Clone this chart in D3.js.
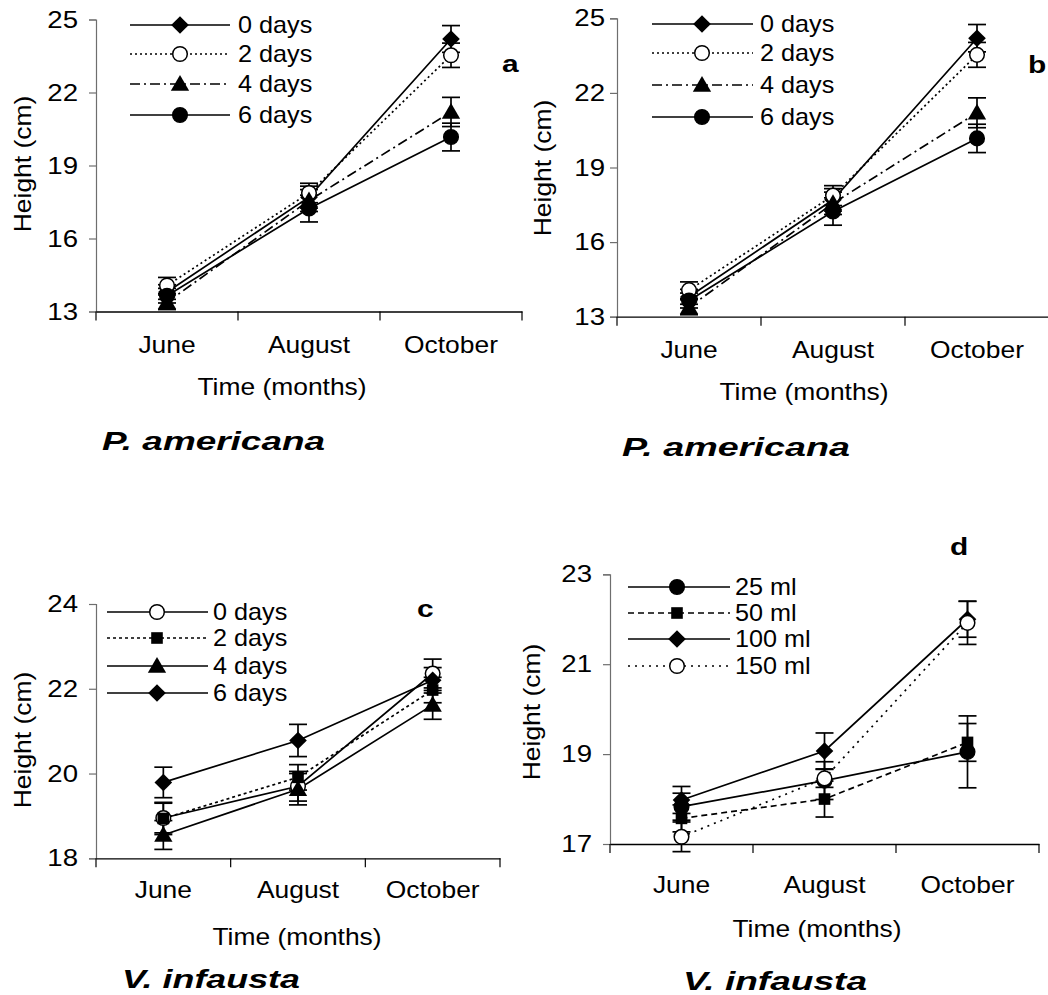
<!DOCTYPE html>
<html>
<head>
<meta charset="utf-8">
<script src="https://cdn.jsdelivr.net/npm/d3@7"></script>
<style>
  body { margin: 0; background: #fff; }
  svg { display: block; font-family: "Liberation Sans", Arial, sans-serif; }
</style>
</head>
<body>
<script>
// months on the x axis
const months = ["June", "August", "October"];

// P. americana (panels a and b show the same values)
const amLabels = ["0 days", "2 days", "4 days", "6 days"];
const am0 = [13.8, 17.7, 24.2],    am0Se = [0.3, 0.45, 0.55];
const am2 = [14.07, 17.87, 23.53], am2Se = [0.33, 0.4, 0.5];
const am4 = [13.38, 17.56, 21.2],  am4Se = [0.3, 0.45, 0.6];
const am6 = [13.65, 17.23, 20.17], am6Se = [0.3, 0.55, 0.57];
const amTicks = [13, 16, 19, 22, 25];

// V. infausta, days (panel c)
const vdLabels = ["0 days", "2 days", "4 days", "6 days"];
const vd0 = [18.95, 19.7, 22.36], vd0Se = [0.35, 0.35, 0.34];
const vd2 = [18.94, 19.91, 21.97], vd2Se = [0.38, 0.3, 0.3];
const vd4 = [18.55, 19.63, 21.62], vd4Se = [0.34, 0.37, 0.34];
const vd6 = [19.79, 20.78, 22.2], vd6Se = [0.36, 0.38, 0.3];
const vdTicks = [18, 20, 22, 24];

// V. infausta, volume (panel d)
const vmLabels = ["25 ml", "50 ml", "100 ml", "150 ml"];
const vm25 = [17.83, 18.41, 19.05], vm25Se = [0.3, 0.42, 0.8];
const vm50 = [17.57, 18.0, 19.26], vm50Se = [0.3, 0.4, 0.42];
const vm100 = [17.98, 19.07, 22.0], vm100Se = [0.3, 0.4, 0.4];
const vm150 = [17.16, 18.46, 21.92], vm150Se = [0.33, 0.2, 0.48];
const vmTicks = [17, 19, 21, 23];

const width = 1048, height = 995;
const FS = 24;   // base font size
const K = 1.1;   // glyphs in the source are drawn a bit wide

const svg = d3.select("body").append("svg")
    .attr("width", width)
    .attr("height", height);

function stretch(sel, k) {
    sel.each(function () {
        const w = this.getComputedTextLength();
        d3.select(this).attr("textLength", w * k).attr("lengthAdjust", "spacingAndGlyphs");
    });
}

function marker(g, shape, x, y) {
    if (shape === "circle" || shape === "ocircle") {
        g.append("circle").attr("cx", x).attr("cy", y).attr("r", 7.3)
            .attr("fill", shape === "ocircle" ? "#fff" : "#000")
            .attr("stroke", "#000").attr("stroke-width", 1.5);
    } else if (shape === "diamond") {
        g.append("path").attr("d", d3.symbol(d3.symbolSquare, 155)())
            .attr("transform", `translate(${x},${y}) rotate(45)`).attr("fill", "#000");
    } else if (shape === "square") {
        g.append("path").attr("d", d3.symbol(d3.symbolSquare, 135)())
            .attr("transform", `translate(${x},${y})`).attr("fill", "#000");
    } else if (shape === "triangle") {
        g.append("path").attr("d", d3.symbol(d3.symbolTriangle, 145)())
            .attr("transform", `translate(${x},${y + 1.5})`).attr("fill", "#000");
    }
}

function mkSeries(labels, vals, ses, shapes, dashes) {
    return labels.map((name, i) => ({name, values: vals[i], se: ses[i], shape: shapes[i], dash: dashes[i]}));
}

const dot = "2,3", dashDot = "10,4,2,4", dash = "6,4";

const panels = [
    {
        letter: "a", x0: 96, x1: 522, yTop: 19.5, yBot: 311.5, domain: [13, 25], ticks: amTicks, tickRight: 78,
        series: mkSeries(amLabels, [am0, am2, am4, am6], [am0Se, am2Se, am4Se, am6Se],
            ["diamond", "ocircle", "triangle", "circle"], [null, dot, dashDot, null]),
        legend: {lx0: 130, lx1: 230, mx: 180, tx: 238, rows: [25, 54, 84, 115]},
        yLab: [23, 164], xLabY: 353, time: [282, 395], species: ["P. americana", 102, 450, 223], let: [502, 72]
    },
    {
        letter: "b", x0: 617, x1: 1049, yTop: 18.3, yBot: 316.7, domain: [13, 25], ticks: amTicks, tickRight: 605,
        series: mkSeries(amLabels, [am0, am2, am4, am6], [am0Se, am2Se, am4Se, am6Se],
            ["diamond", "ocircle", "triangle", "circle"], [null, dot, dashDot, null]),
        legend: {lx0: 652, lx1: 753, mx: 702, tx: 760, rows: [24, 53, 85, 117]},
        yLab: [543, 168], xLabY: 358, time: [804, 400], species: ["P. americana", 622, 456, 228], let: [1028, 73]
    },
    {
        letter: "c", x0: 96, x1: 500, yTop: 604, yBot: 858.3, domain: [18, 24], ticks: vdTicks, tickRight: 78,
        series: mkSeries(vdLabels, [vd0, vd2, vd4, vd6], [vd0Se, vd2Se, vd4Se, vd6Se],
            ["ocircle", "square", "triangle", "diamond"], [null, "3,3", null, null]),
        legend: {lx0: 107, lx1: 208, mx: 157, tx: 213, rows: [612, 638, 666, 693]},
        yLab: [23, 740], xLabY: 898, time: [297, 945], species: ["V. infausta", 122, 988, 178], let: [417, 617]
    },
    {
        letter: "d", x0: 610, x1: 1039, yTop: 574.3, yBot: 844, domain: [17, 23], ticks: vmTicks, tickRight: 592,
        series: mkSeries(vmLabels, [vm25, vm50, vm100, vm150], [vm25Se, vm50Se, vm100Se, vm150Se],
            ["circle", "square", "diamond", "ocircle"], [null, dash, null, "2,5"]),
        legend: {lx0: 628, lx1: 730, mx: 677, tx: 735, rows: [587, 613, 639, 666]},
        yLab: [532, 712], xLabY: 893, time: [817, 937], species: ["V. infausta", 683, 990, 184], let: [950, 555]
    }
];

panels.forEach(p => {
    const g = svg.append("g");
    const x = d3.scaleBand().domain(months).range([p.x0, p.x1]);
    const y = d3.scaleLinear().domain(p.domain).range([p.yBot, p.yTop]);
    const cx = m => x(m) + x.bandwidth() / 2;

    // y axis
    const yAx = g.append("g").attr("transform", `translate(${p.x0},0)`)
        .call(d3.axisLeft(y).tickValues(p.ticks).tickSize(7).tickPadding(p.x0 - 7 - p.tickRight).tickFormat(d3.format("d")));
    yAx.selectAll("path,line").attr("stroke", "#6e6e6e").attr("stroke-width", 1.2);
    yAx.selectAll("text").attr("font-size", FS).attr("fill", "#000").attr("font-family", null).call(stretch, 1.15);

    // x axis: line + ticks at band edges
    const xAx = g.append("g").attr("transform", `translate(0,${p.yBot})`)
        .call(d3.axisBottom(x).tickSize(0).tickPadding(0));
    xAx.select(".domain").attr("stroke", "#000").attr("stroke-width", 1.3);
    xAx.selectAll("text").attr("font-size", FS).attr("fill", "#000").attr("font-family", null)
        .attr("dy", 0).attr("y", p.xLabY - p.yBot).call(stretch, K);
    xAx.selectAll(".edge").data([...months.map(m => x(m)), p.x1]).join("line")
        .attr("x1", d => d).attr("x2", d => d).attr("y1", 0).attr("y2", 9)
        .attr("stroke", "#000").attr("stroke-width", 1.2);

    // series lines
    const line = d3.line().x((d, i) => cx(months[i])).y(d => y(d));
    p.series.forEach(s => {
        g.append("path").datum(s.values).attr("d", line)
            .attr("fill", "none").attr("stroke", "#000").attr("stroke-width", 1.7)
            .attr("stroke-dasharray", s.dash);
    });

    // error bars
    p.series.forEach(s => {
        s.values.forEach((v, i) => {
            const xc = cx(months[i]);
            const e = g.append("g").attr("stroke", "#000").attr("stroke-width", 1.7);
            e.append("line").attr("x1", xc).attr("x2", xc).attr("y1", y(v - s.se[i])).attr("y2", y(v + s.se[i]));
            [v - s.se[i], v + s.se[i]].forEach(t => {
                e.append("line").attr("x1", xc - 9).attr("x2", xc + 9).attr("y1", y(t)).attr("y2", y(t));
            });
        });
    });

    // markers
    p.series.forEach(s => {
        s.values.forEach((v, i) => marker(g, s.shape, cx(months[i]), y(v)));
    });

    // legend
    const L = p.legend;
    p.series.forEach((s, i) => {
        const ry = L.rows[i];
        g.append("line").attr("x1", L.lx0).attr("x2", L.lx1).attr("y1", ry).attr("y2", ry)
            .attr("stroke", "#000").attr("stroke-width", 1.7).attr("stroke-dasharray", s.dash);
        marker(g, s.shape, L.mx, ry);
        g.append("text").attr("x", L.tx).attr("y", ry).attr("dy", "0.35em")
            .attr("font-size", FS).text(s.name).call(stretch, 1.05);
    });

    // titles
    g.append("text").attr("transform", `translate(${p.yLab[0]},${p.yLab[1]}) rotate(-90)`)
        .attr("text-anchor", "middle").attr("dy", "0.35em").attr("font-size", FS)
        .text("Height (cm)").call(stretch, K);
    g.append("text").attr("x", p.time[0]).attr("y", p.time[1]).attr("text-anchor", "middle")
        .attr("font-size", FS).text("Time (months)").call(stretch, K);
    g.append("text").attr("x", p.species[1]).attr("y", p.species[2])
        .attr("font-size", 26).attr("font-weight", "bold").attr("font-style", "italic")
        .attr("textLength", p.species[3]).attr("lengthAdjust", "spacingAndGlyphs")
        .text(p.species[0]);
    g.append("text").attr("x", p.let[0]).attr("y", p.let[1])
        .attr("font-size", 23).attr("font-weight", "bold").text(p.letter).call(stretch, 1.3);
});
</script>
</body>
</html>
